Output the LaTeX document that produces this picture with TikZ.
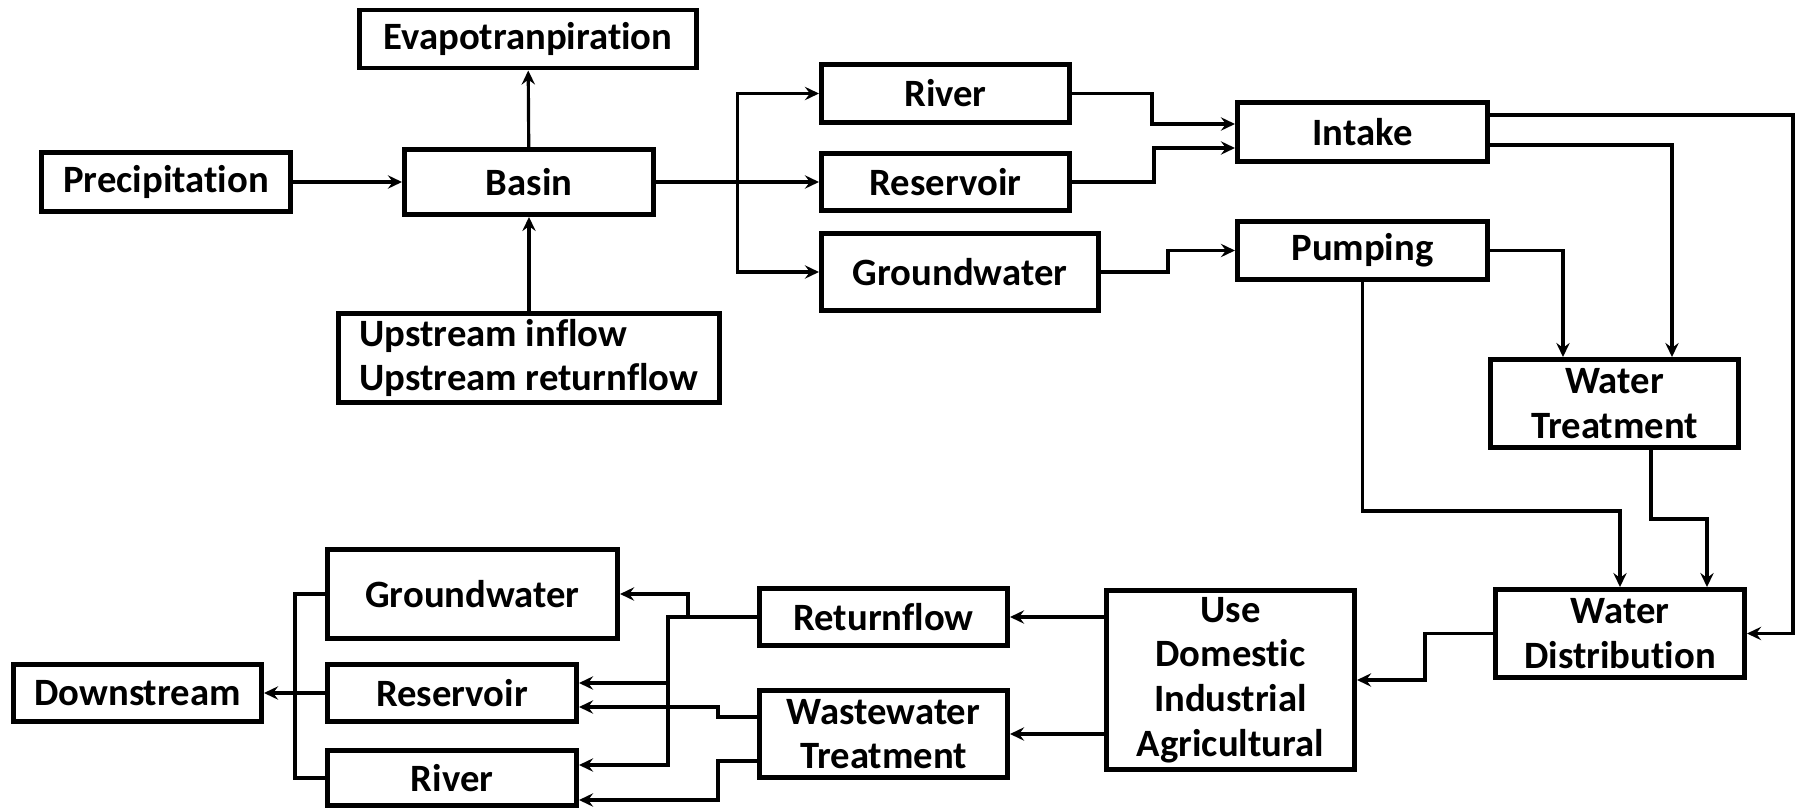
\documentclass[tikz,border=0pt]{standalone}
\usepackage{fontspec}
\setmainfont{Carlito}[Ligatures=NoCommon]
\usetikzlibrary{arrows.meta,calc}

\begin{document}
\begin{tikzpicture}[x=0.01cm,y=-0.01cm,
    box/.style={draw,line width=1.4pt,inner sep=0pt,align=center,
      font=\fontsize{11}{12.7}\selectfont\bfseries},
    link/.style={line width=0.9pt},
    flow/.style={link,-{Stealth[length=4pt,width=3.8pt,inset=1.4pt]}}]
    \useasboundingbox (0,0) rectangle (1799,809);
    %% basin
    \node[box,minimum width=3.36cm,minimum height=0.58cm] (evap) at (528,39) {Evapotranpiration};
    \node[box,minimum width=2.48cm,minimum height=0.59cm] (precip) at (166,182) {Precipitation};
    \node[box,minimum width=2.49cm,minimum height=0.65cm] (basin) at (529,182) {Basin};
    \node[box,align=left,minimum width=3.81cm,minimum height=0.89cm] (upstream) at (529,358) {Upstream inflow\\Upstream returnflow};
    %% sources
    \node[box,minimum width=2.48cm,minimum height=0.58cm] (riverT) at (945.5,93.5) {River};
    \node[box,minimum width=2.48cm,minimum height=0.57cm] (resT) at (945.5,182) {Reservoir};
    \node[box,minimum width=2.77cm,minimum height=0.77cm] (gwT) at (960,272) {Groundwater};
    %% supply
    \node[box,minimum width=2.50cm,minimum height=0.59cm] (intake) at (1362.5,132) {Intake};
    \node[box,minimum width=2.50cm,minimum height=0.58cm] (pumping) at (1362.5,250.5) {Pumping};
    \node[box,minimum width=2.48cm,minimum height=0.88cm] (wt) at (1614.5,403.5) {Water\\Treatment};
    \node[box,minimum width=2.49cm,minimum height=0.88cm] (wd) at (1620,633.5) {Water\\Distribution};
    %% use and return
    \node[box,minimum width=2.48cm,minimum height=1.79cm] (use) at (1230.5,680) {Use\\Domestic\\Industrial\\Agricultural};
    \node[box,minimum width=2.48cm,minimum height=0.57cm] (ret) at (883.5,617) {Returnflow};
    \node[box,minimum width=2.48cm,minimum height=0.87cm] (ww) at (883.5,734) {Wastewater\\Treatment};
    %% receiving water
    \node[box,minimum width=2.90cm,minimum height=0.89cm] (gwB) at (472.5,594) {Groundwater};
    \node[box,minimum width=2.49cm,minimum height=0.57cm] (resB) at (452,693) {Reservoir};
    \node[box,minimum width=2.49cm,minimum height=0.55cm] (rivB) at (452,778) {River};
    \node[box,minimum width=2.48cm,minimum height=0.57cm] (down) at (137.5,693) {Downstream};

    %% basin links
    \draw[flow] (precip) -- (basin);
    \draw[flow] (basin) -- (evap);
    \draw[flow] (upstream) -- (basin);
    \coordinate (fork) at ($(basin.east)!0.5!(resT.west)$);
    \draw[flow] (basin.east) -- (resT.west);
    \draw[flow] (fork) |- (riverT.west);
    \draw[flow] (fork) |- (gwT.west);
    %% to intake and pumping
    \draw[flow] (riverT.east) -- ++(80,0) |- ($(intake.west)+(0,-8)$);
    \draw[flow] (resT.east) -- ++(82,0) |- ($(intake.west)+(0,16)$);
    \draw[flow] (gwT.east) -- ++(67,0) |- (pumping.west);
    %% treatment and distribution
    \draw[flow] ($(intake.east)+(0,-17)$) -- ++(303,0) |- (wd.east);
    \draw[flow] ($(intake.east)+(0,13)$) -| ($(wt.north)+(57.5,0)$);
    \draw[flow] (pumping.east) -| ($(wt.north)+(-51.5,0)$);
    \draw[flow] (pumping.south) -- ++(0,229) -| (wd.north);
    \draw[flow] ($(wt.south)+(36.5,0)$) -- ++(0,69) -| ($(wd.north)+(87,0)$);
    \draw[flow] (wd.west) -- ++(-68,0) |- (use.east);
    %% use
    \draw[flow] (ret.east -| use.west) -- (ret.east);
    \draw[flow] (ww.east -| use.west) -- (ww.east);
    %% returnflow
    \coordinate (rfork) at ($(ret.west)+(-89,0)$);
    \draw[flow] (ret.west) -- (rfork) |- ($(rivB.east)+(0,-13)$);
    \draw[flow] ($(resB.east)+(89,-10)$) -- ($(resB.east)+(0,-10)$);
    \draw[flow] ($(ret.west)+(-69,0)$) |- (gwB.east);
    %% wastewater
    \draw[flow] ($(ww.west)+(0,-17)$) -- ++(-39,0) |- ($(resB.east)+(0,14)$);
    \draw[flow] ($(ww.west)+(0,27)$) -- ++(-39,0) |- ($(rivB.east)+(0,22)$);
    %% downstream
    \draw[link] (gwB.west) -- ++(-30,0) |- (rivB.west);
    \draw[flow] (resB.west) -- (down.east);
\end{tikzpicture}
\end{document}
